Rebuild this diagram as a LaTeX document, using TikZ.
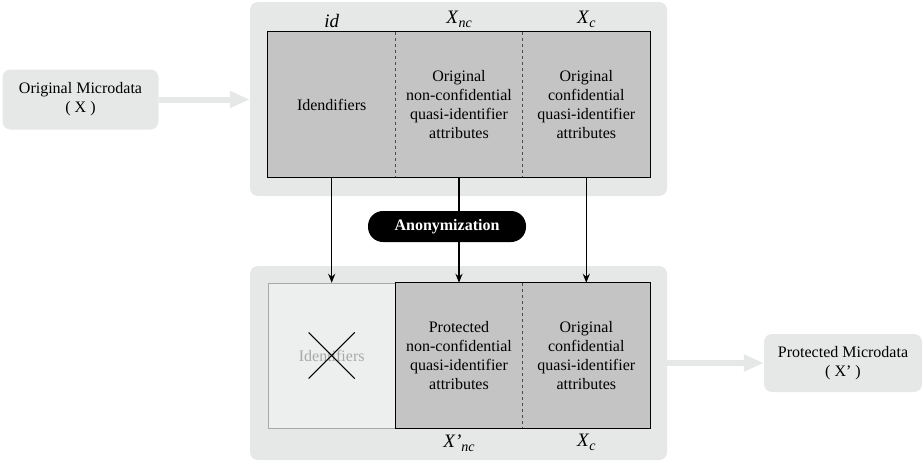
\documentclass[tikz,border=0pt]{standalone}
\usepackage{fontspec}
\setmainfont{Liberation Serif}
\usetikzlibrary{arrows.meta,positioning,shapes.misc}
\definecolor{panelgray}{HTML}{E6E7E7}
\definecolor{cellgray}{HTML}{C4C4C4}
\definecolor{ghostgray}{HTML}{A8A8A8}
\newcommand{\attr}[2]{\textit{#1}\raisebox{-4pt}{\fontsize{14}{14}\selectfont\textit{#2}}}
\begin{document}
\begin{tikzpicture}[
  x=1pt, y=-1pt,
  font=\fontsize{16}{18.7}\selectfont,
  panel/.style={fill=panelgray, rounded corners=8pt, inner sep=0pt},
  src/.style={fill=panelgray, rounded corners=8pt, align=center, inner sep=0pt,
              minimum width=156pt, minimum height=60pt},
  cell/.style={fill=cellgray, align=center, inner sep=0pt,
               minimum width=127.3pt, minimum height=145pt},
  ghost/.style={fill=panelgray!70!white, draw=ghostgray, align=center, inner sep=0pt,
                minimum width=127.3pt, minimum height=145pt, text=ghostgray},
  hdr/.style={font=\fontsize{19}{20}\selectfont, inner sep=0pt},
  pill/.style={fill=black, text=white, rounded corners=15pt, font=\fontsize{16}{18}\selectfont\bfseries,
               minimum width=158pt, minimum height=31pt, inner sep=0pt},
  flow/.style={-{Triangle[length=20pt,width=16pt]}, line width=6pt, draw=panelgray},
  arr/.style={-{Stealth[length=9pt,width=7pt]}, line width=1.5pt}
]
\useasboundingbox (0,0) rectangle (924,463);

% ---------------- panels ----------------
\node[panel, minimum width=417pt, minimum height=194pt] (top) at (458.5, 99) {};
\node[panel, minimum width=417pt, minimum height=194pt] (bot) at (458.5, 363) {};

% ---------------- microdata ----------------
\node[src] (orig) at (80.5, 99.5) {Original Microdata\\( X )};
\node[src, minimum width=158pt, minimum height=58pt] (prot) at (843, 363) {Protected Microdata\\( X’ )};

% ---------------- original table ----------------
\node[cell] (idT) at (331.7, 104.5) {Idendifiers};
\node[cell] (ncT) at (459, 104.5) {Original\\non-confidential\\quasi-identifier\\attributes};
\node[cell] (cT) at (586.3, 104.5) {Original\\confidential\\quasi-identifier\\attributes};
\draw[line width=1.2pt] (idT.north west) rectangle (cT.south east);
\draw[dashed, line width=1pt, black!70] (idT.north east) -- (idT.south east);
\draw[dashed, line width=1pt, black!70] (ncT.north east) -- (ncT.south east);
\node[hdr, above=4pt of idT] {\textit{id}};
\node[hdr, above=4pt of ncT] {\attr{X}{nc}};
\node[hdr, above=4pt of cT] {\attr{X}{c}};

% ---------------- protected table ----------------
\node[ghost] (idB) at (331.7, 355.5) {Identifiers};
\node[cross out, draw, line width=1.1pt, minimum size=45pt, inner sep=0pt] (gone) at (idB.center) {};
\node[cell] (ncB) at (459, 355.5) {Protected\\non-confidential\\quasi-identifier\\attributes};
\node[cell] (cB) at (586.3, 355.5) {Original\\confidential\\quasi-identifier\\attributes};
\draw[line width=1.2pt] (ncB.north west) rectangle (cB.south east);
\draw[dashed, line width=1pt, black!70] (ncB.north east) -- (ncB.south east);
\node[hdr, below=6pt of ncB] {\attr{X’}{nc}};
\node[hdr, below=6pt of cB] {\attr{X}{c}};

% ---------------- anonymization ----------------
\node[pill] (anon) at (447, 226.5) {Anonymization};

% ---------------- arrows ----------------
\draw[flow] (orig.east) -- (orig.east -| top.west);
\draw[flow] (bot.east |- prot.west) -- (prot.west);
\draw[arr] (idT.south) -- (idB.north);
\draw[line width=1.5pt] (ncT.south) -- (ncT.south |- anon.north);
\draw[arr] (ncT.south |- anon.south) -- (ncB.north);
\draw[arr] (cT.south) -- (cB.north);

\end{tikzpicture}
\end{document}
